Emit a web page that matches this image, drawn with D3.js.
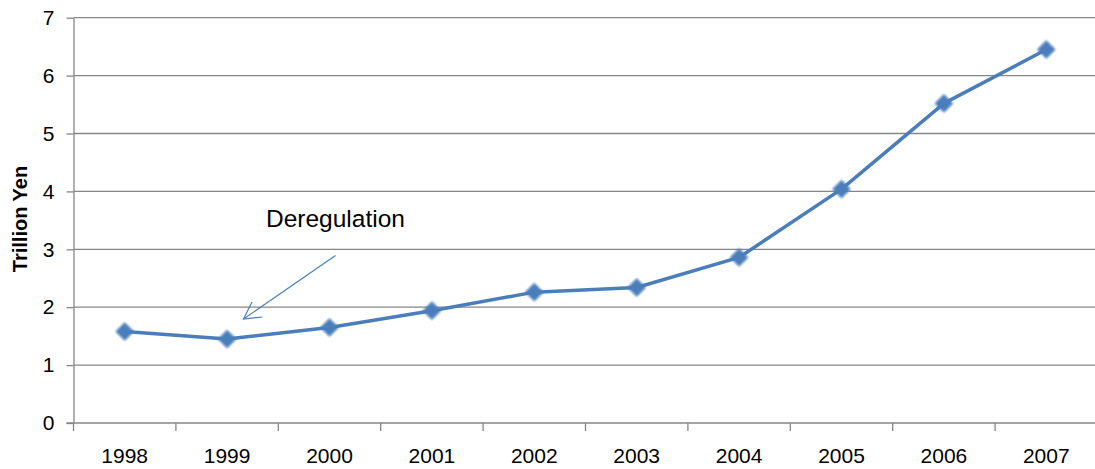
<!DOCTYPE html>
<html><head><meta charset="utf-8">
<script src="https://cdn.jsdelivr.net/npm/d3@7"></script>
<style>body{margin:0;background:#fff}svg{display:block}</style>
</head><body>
<svg id="c" width="1095" height="469"></svg>
<script>
const years = ["1998","1999","2000","2001","2002","2003","2004","2005","2006","2007"];
const values = [1.58,1.45,1.65,1.94,2.26,2.34,2.86,4.04,5.52,6.45];
const yTicks = [0,1,2,3,4,5,6,7];
const yTitle = "Trillion Yen";
const annotation = "Deregulation";

(function(){
const svg = d3.select("#c");
const pLeft = 73.5, pRight = 1097.5, pTop = 17.7, pBottom = 423;
const x = d3.scaleBand().domain(years).range([pLeft,pRight]);
const y = d3.scaleLinear().domain([0,7]).range([pBottom,pTop]);
const axisColor = "#868686";
const blue = "#4a7ebb";
const font = "Liberation Sans, Arial, sans-serif";

// gridlines
svg.append("g").selectAll("line").data(yTicks.filter(d=>d>0)).join("line")
  .attr("x1",pLeft).attr("x2",pRight).attr("y1",d=>y(d)).attr("y2",d=>y(d))
  .attr("stroke",axisColor).attr("stroke-width",1.3);

// y axis
const ya = svg.append("g").attr("transform",`translate(${pLeft},0)`)
  .call(d3.axisLeft(y).tickValues(yTicks).tickSize(7).tickSizeOuter(0).tickPadding(12).tickFormat(d3.format("d")));
ya.select(".domain").attr("stroke",axisColor).attr("stroke-width",1.3);
ya.selectAll(".tick line").attr("stroke",axisColor).attr("stroke-width",1.3);
ya.selectAll("text").attr("font-family",font).attr("font-size",21).attr("fill","#000");

// x axis with ticks at band boundaries
const xa = svg.append("g").attr("transform",`translate(0,${pBottom})`);
xa.append("line").attr("x1",pLeft-7).attr("x2",pRight).attr("stroke",axisColor).attr("stroke-width",1.3);
const bounds = years.map(d=>x(d)).concat([pRight]);
xa.selectAll("line.t").data(bounds).join("line").attr("class","t")
  .attr("x1",d=>d).attr("x2",d=>d).attr("y1",0).attr("y2",8)
  .attr("stroke",axisColor).attr("stroke-width",1.3);
xa.selectAll("text").data(years).join("text")
  .attr("x",d=>x(d)+x.bandwidth()/2).attr("y",40)
  .attr("text-anchor","middle").attr("font-family",font)
  .attr("font-size",21).attr("fill","#000").text(d=>d);

// y title
svg.append("text").attr("transform",`translate(27,219) rotate(-90)`)
  .attr("text-anchor","middle").attr("font-family",font)
  .attr("font-weight","bold").attr("font-size",20).attr("fill","#000").text(yTitle);

// line
const cx = d=>x(d)+x.bandwidth()/2;
const line = d3.line().x((d,i)=>cx(years[i])).y(d=>y(d));
svg.append("path").datum(values).attr("d",line).attr("fill","none")
  .attr("stroke",blue).attr("stroke-width",3.5).attr("stroke-linejoin","round");

// markers
const defs = svg.append("defs");
defs.append("filter").attr("id","blur").append("feGaussianBlur").attr("stdDeviation",0.8);
svg.append("g").selectAll("path").data(values).join("path")
  .attr("d",d3.symbol().type(d3.symbolSquare).size(175))
  .attr("transform",(d,i)=>`translate(${cx(years[i])},${y(d)}) rotate(45)`)
  .attr("fill",blue).attr("filter","url(#blur)");

// annotation
svg.append("text").attr("x",266).attr("y",227)
  .attr("font-family",font).attr("font-size",24.5)
  .attr("fill","#000").text(annotation);
const ax1 = 335.5, ay1 = 255.5, ax2 = 243.5, ay2 = 319;
svg.append("line").attr("x1",ax1).attr("y1",ay1).attr("x2",ax2).attr("y2",ay2)
  .attr("stroke",blue).attr("stroke-width",1.2);
const ang = Math.atan2(ay1-ay2, ax1-ax2);
const L = 19, spread = 0.5;
svg.append("path")
  .attr("d",`M${ax2+L*Math.cos(ang-spread)},${ay2+L*Math.sin(ang-spread)}L${ax2},${ay2}L${ax2+L*Math.cos(ang+spread)},${ay2+L*Math.sin(ang+spread)}`)
  .attr("fill","none").attr("stroke",blue).attr("stroke-width",1.2);
})();
</script>
</body></html>
